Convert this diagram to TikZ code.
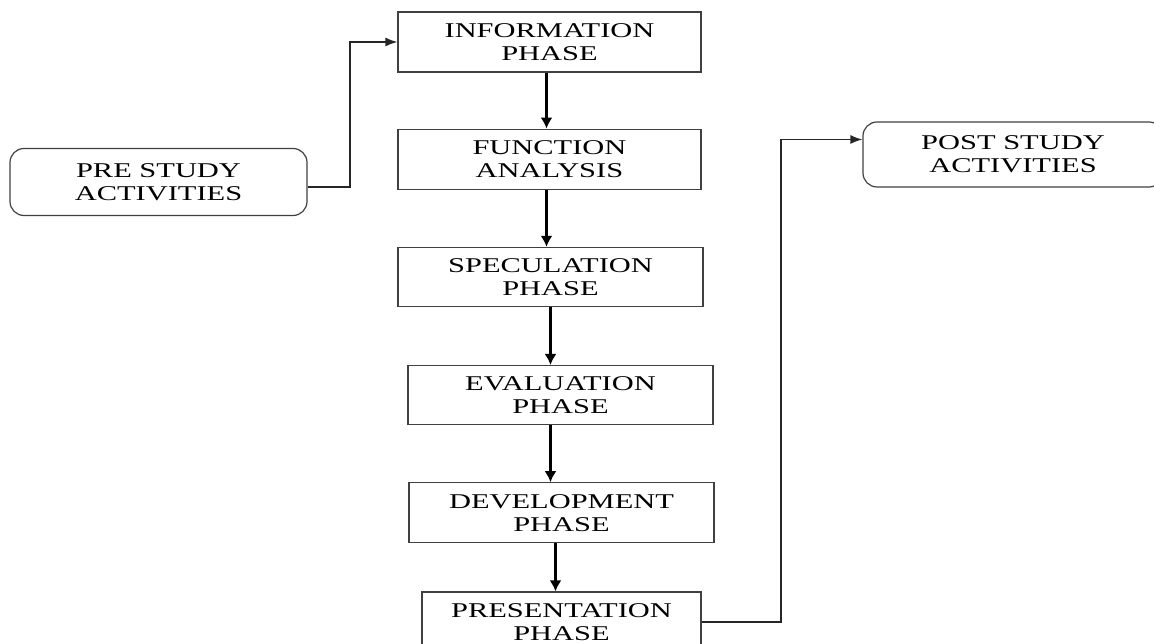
\documentclass[tikz,border=0pt]{standalone}
\usepackage{fontspec}
\setmainfont{Liberation Serif}[FakeStretch=1.45]
\usetikzlibrary{positioning,arrows.meta}

\begin{document}
\begin{tikzpicture}[x=1pt,y=1pt,
  phase/.style={draw=black!75,line width=1.2pt,minimum width=305pt,minimum height=60pt,
    inner sep=0pt,align=center,font=\fontsize{21}{23}\selectfont},
  study/.style={phase,rounded corners=14pt,minimum width=297pt,minimum height=67pt},
  flow/.style={-{Latex[length=11pt,width=12pt]},line width=2.3pt},
  link/.style={-{Latex[length=12pt,width=9pt]},line width=1.3pt,draw=black!85}]
  \useasboundingbox (0,0) rectangle (1154,644);
  % main phases
  \node[phase,minimum width=303pt] (nInfo) at (549.5,602) {INFORMATION\\PHASE};
  \node[phase,minimum width=303pt,below=56pt of nInfo] (nFunc) {FUNCTION\\ANALYSIS};
  \node[phase,below=57pt of nFunc,xshift=1pt,minimum height=59pt] (nSpec) {SPECULATION\\PHASE};
  \node[phase,below=58pt of nSpec,xshift=10pt,minimum height=59pt] (nEval) {EVALUATION\\PHASE};
  \node[phase,below=57pt of nEval,xshift=1pt] (nDev) {DEVELOPMENT\\PHASE};
  \node[phase,below=52pt of nDev,minimum width=279pt,yshift=4pt] (nPres) {PRESENTATION\\PHASE};
  % study activities
  \node[study] (nPre) at (158.5,462) {PRE STUDY\\ACTIVITIES};
  \node[study,minimum width=300pt,minimum height=65pt] (nPost) at (1013,489.5) {POST STUDY\\ACTIVITIES};
  \coordinate (pBendA) at (350,457);
  \coordinate (pBendB) at (781,22);
  % arrows
  \draw[flow] (nInfo.south) ++(-3,0) coordinate (pI) -- (nFunc.north -| pI);
  \draw[flow] (nFunc.south) ++(-3,0) coordinate (pF) -- (nSpec.north -| pF);
  \draw[flow] (nSpec.south) -- (nEval.north -| nSpec.south);
  \draw[flow] (nEval.south) ++(-10,0) coordinate (pE) -- (nDev.north -| pE);
  \draw[flow] (nDev.south) ++(-6,0) coordinate (pD) -- (nPres.north -| pD);
  \draw[link] (nPre.east |- pBendA) -- (pBendA) |- (nInfo.west);
  \draw[link] (nPres.east |- pBendB) -- (pBendB) |- ([yshift=15pt]nPost.west);
\end{tikzpicture}
\end{document}
